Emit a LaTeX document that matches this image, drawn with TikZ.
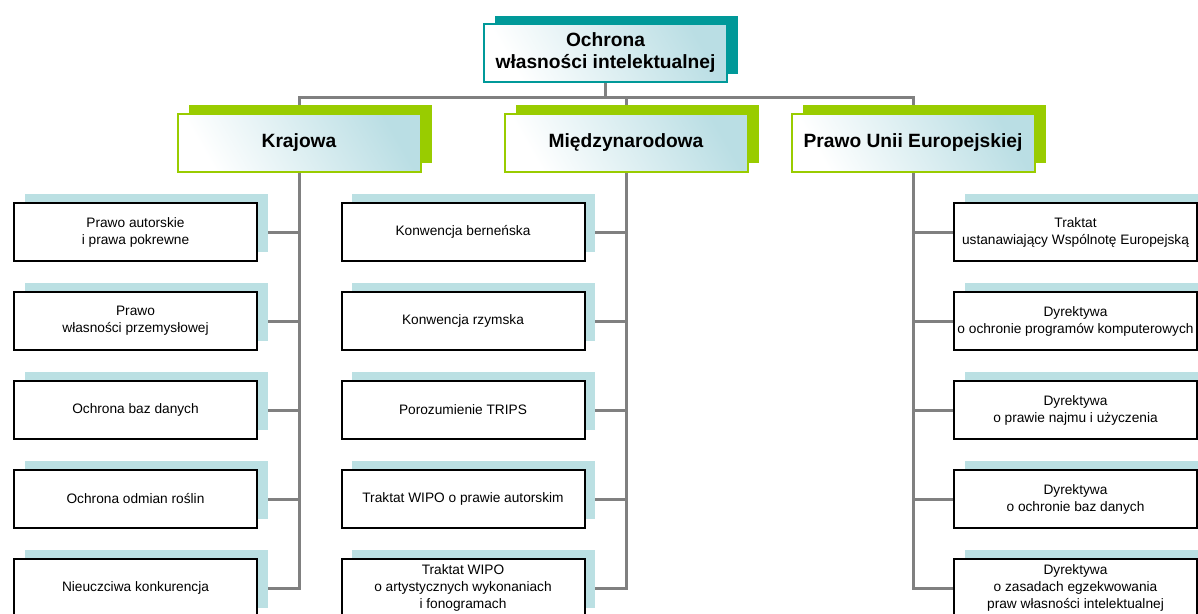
\documentclass[tikz,border=0pt]{standalone}
\usepackage{fontspec}
\setmainfont{Liberation Sans}
\usetikzlibrary{shadows,backgrounds}
\definecolor{tealsh}{RGB}{0,153,153}
\definecolor{greensh}{RGB}{153,204,0}
\definecolor{leafsh}{RGB}{187,224,227}
\definecolor{hblue}{RGB}{186,222,228}
\definecolor{conngray}{RGB}{128,128,128}
\begin{document}
\begin{tikzpicture}[x=1pt,y=-1pt,
  headbase/.style={line width=2pt, minimum width=243pt, minimum height=58pt,
    top color=hblue, bottom color=white, shading angle=-60,
    font=\fontsize{19.2}{22}\selectfont\bfseries, align=center, inner sep=2pt},
  topbox/.style={headbase, draw=tealsh,
    general shadow={fill=tealsh, shadow xshift=11pt, shadow yshift=8pt}},
  catbox/.style={headbase, draw=greensh,
    general shadow={fill=greensh, shadow xshift=11pt, shadow yshift=9pt}},
  leafbox/.style={draw=black, line width=2pt, fill=white, minimum width=243pt,
    minimum height=58pt, general shadow={fill=leafsh, shadow xshift=10.5pt, shadow yshift=9pt},
    font=\fontsize{13.7}{17}\selectfont, align=center, inner sep=2pt},
  conn/.style={draw=conngray, line width=3pt}]
\useasboundingbox (0,0) rectangle (1198,613);
\begin{scope}
\clip (0,0) rectangle (1198,613);
\node[topbox] (top) at (605.5,52.5) {Ochrona\\własności intelektualnej};
\node[catbox] (kraj) at (299,142.5) {Krajowa};
\node[catbox] (miedzy) at (626,142.5) {Międzynarodowa};
\node[catbox] (ue) at (913,142.5) {Prawo Unii Europejskiej};

\node[leafbox] (k1) at (135.5,232) {Prawo autorskie\\i prawa pokrewne};
\node[leafbox] (k2) at (135.5,321) {Prawo\\własności przemysłowej};
\node[leafbox] (k3) at (135.5,410) {Ochrona baz danych};
\node[leafbox] (k4) at (135.5,499) {Ochrona odmian roślin};
\node[leafbox] (k5) at (135.5,588) {Nieuczciwa konkurencja};

\node[leafbox] (m1) at (463,232) {Konwencja berneńska};
\node[leafbox] (m2) at (463,321) {Konwencja rzymska};
\node[leafbox] (m3) at (463,410) {Porozumienie TRIPS};
\node[leafbox] (m4) at (463,499) {Traktat WIPO o prawie autorskim};
\node[leafbox] (m5) at (463,588) {Traktat WIPO\\o artystycznych wykonaniach\\i fonogramach};

\node[leafbox] (u1) at (1075.5,232) {Traktat\\ustanawiający Wspólnotę Europejską};
\node[leafbox] (u2) at (1075.5,321) {Dyrektywa\\o ochronie programów komputerowych};
\node[leafbox] (u3) at (1075.5,410) {Dyrektywa\\o prawie najmu i użyczenia};
\node[leafbox] (u4) at (1075.5,499) {Dyrektywa\\o ochronie baz danych};
\node[leafbox] (u5) at (1075.5,588) {Dyrektywa\\o zasadach egzekwowania\\praw własności intelektualnej};
\end{scope}

\begin{pgfonlayer}{background}
\coordinate (bus) at (top.south |- 0,97);
\draw[conn] (top.south) -- (bus);
\draw[conn] (bus) -| (kraj.north);
\draw[conn] (bus) -| (miedzy.north);
\draw[conn] (bus) -| (ue.north);
\foreach \i in {1,...,5} {
  \draw[conn] (kraj.south) |- (k\i.east);
  \draw[conn] (miedzy.south) |- (m\i.east);
  \draw[conn] (ue.south) |- (u\i.west);
}
\end{pgfonlayer}
\end{tikzpicture}
\end{document}
